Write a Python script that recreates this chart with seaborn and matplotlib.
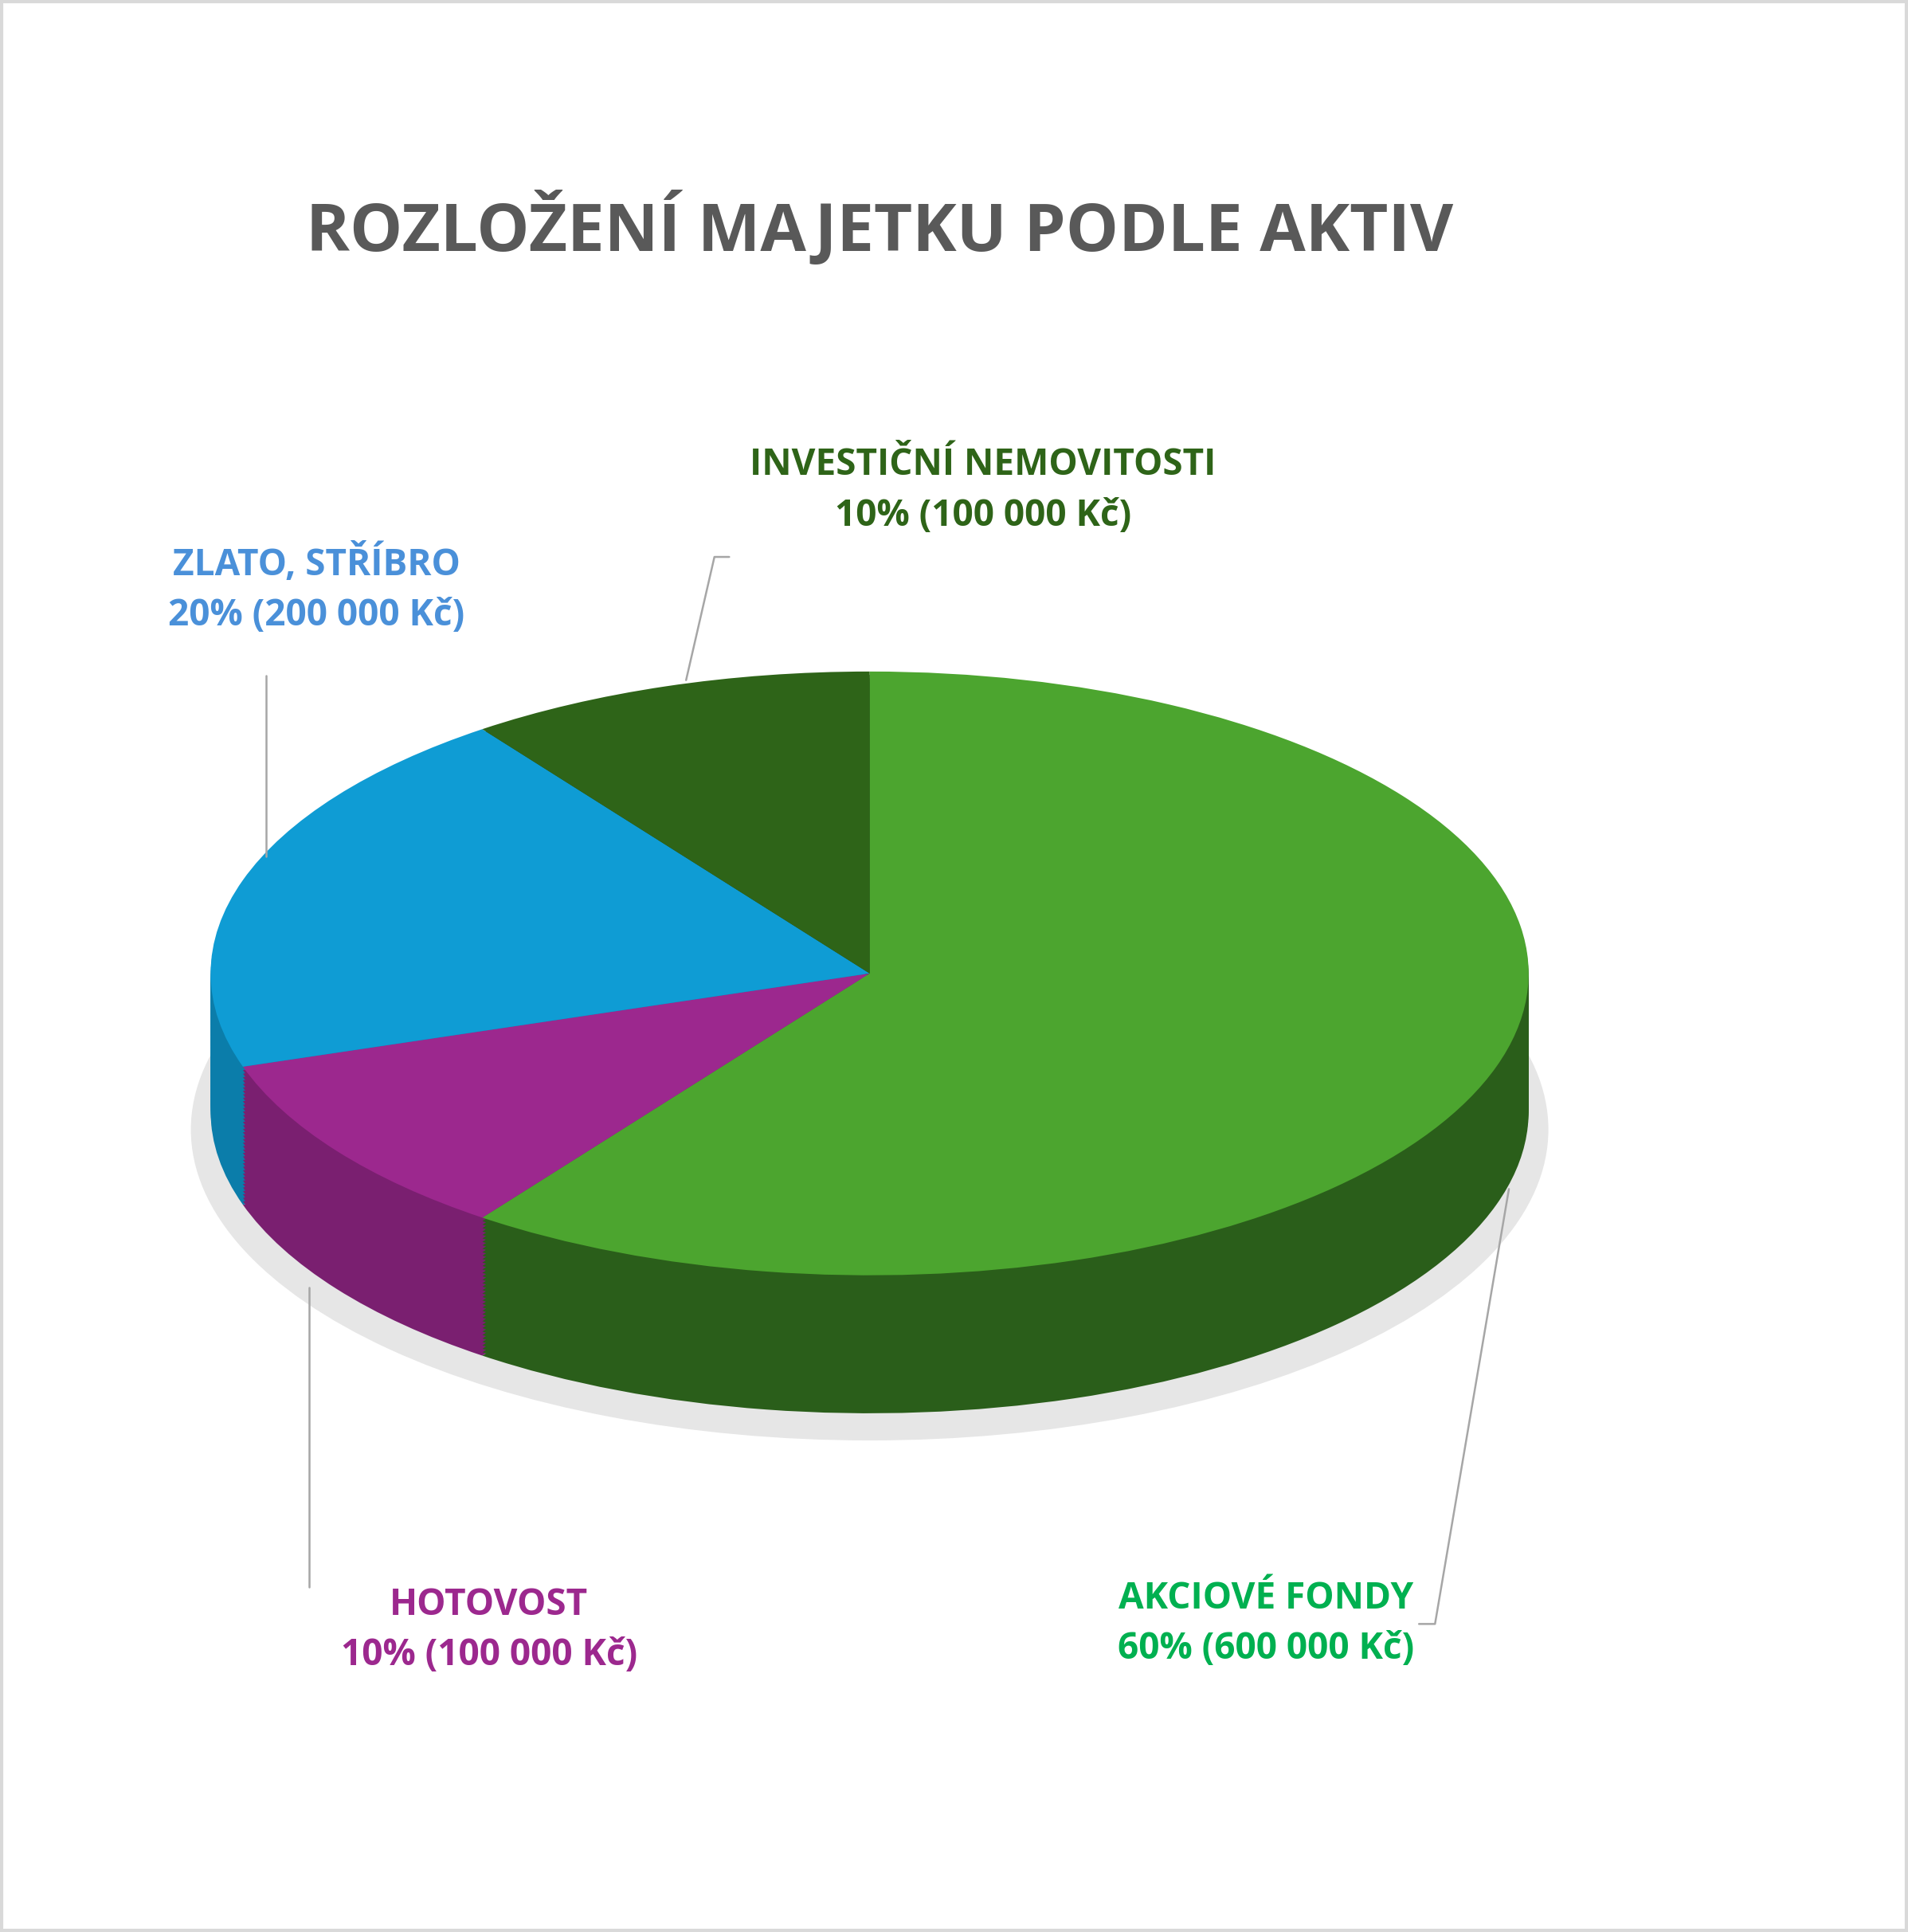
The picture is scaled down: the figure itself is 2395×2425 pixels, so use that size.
import matplotlib
matplotlib.use("Agg")
import matplotlib.pyplot as plt
import seaborn as sns
import numpy as np

sns.set_theme(style="white")
plt.rcParams['font.family'] = ['Open Sans', 'DejaVu Sans']

categories = ["AKCIOVÉ FONDY", "HOTOVOST", "ZLATO, STŘÍBRO", "INVESTIČNÍ NEMOVITOSTI"]
values = [60, 10, 20, 10]
amounts = ["600 000 Kč", "100 000 Kč", "200 000 Kč", "100 000 Kč"]
top_colors = ["#4CA52F", "#9C288E", "#0F9CD4", "#2E6418"]
side_colors = ["#2A5E1A", "#7A1F70", "#0B7DAA", "#22491A"]
label_colors = ["#00B050", "#9C288E", "#4A90D9", "#2E6418"]
title = "ROZLOŽENÍ MAJETKU PODLE AKTIV"

W, H = 1549, 1568
fig = plt.figure(figsize=(23.95, 24.25), dpi=100)
fig.patch.set_facecolor("white")

# pie axes (image px units)
cx, cy, rx, ry, depth = 706, 790, 535, 245, 112
left, right, top, bottom = 106, 1306, 450, 1250
ax = fig.add_axes([left / W, 1 - bottom / H, (right - left) / W, (bottom - top) / H])
ax.set_xlim(-(cx - left) / rx, (right - cx) / rx)
ax.set_ylim(-(bottom - cy) / ry, (cy - top) / ry)
ax.set_aspect('auto')
ax.axis('off')

# shadow
ax.pie([1], colors=["#E6E6E6"], radius=1.03, center=(0, -depth / ry - 0.06),
       wedgeprops=dict(linewidth=0))
# side layers
n = 40
for i in range(n, 0, -1):
    off = -depth / ry * i / n
    ax.pie(values, colors=side_colors, startangle=90, counterclock=False,
           center=(0, off), wedgeprops=dict(linewidth=0))
ax.pie(values, colors=top_colors, startangle=90, counterclock=False,
       center=(0, 0), wedgeprops=dict(linewidth=0))
ax.set_xlim(-(cx - left) / rx, (right - cx) / rx)
ax.set_ylim(-(bottom - cy) / ry, (cy - top) / ry)
ax.set_aspect('auto')

def ft(x, y, s, **kw):
    fig.text(x / W, 1 - y / H, s, **kw)

ft(714, 186, title, ha='center', va='center', fontsize=60, fontweight='bold', color="#595959")

label_pos = [(1028, 1318), (397, 1323), (257, 478), (798, 398)]
for (x, y), c, v, a, col in zip(label_pos, categories, values, amounts, label_colors):
    ft(x, y, f"{c}\n{v}% ({a})", ha='center', va='center', fontsize=33,
       fontweight='bold', color=col, linespacing=1.45)

# leader lines
lines = [
    [(1225, 965), (1165, 1318), (1152, 1318)],
    [(251, 1045), (251, 1288)],
    [(216, 548), (216, 695)],
    [(592, 452), (580, 452), (557, 552)],
]
for pts in lines:
    xs = [p[0] / W for p in pts]
    ys = [1 - p[1] / H for p in pts]
    fig.add_artist(plt.Line2D(xs, ys, color="#A6A6A6", lw=1.8))

fig.add_artist(plt.Rectangle((0.001, 0.001), 0.998, 0.998, fill=False,
                             edgecolor="#D9D9D9", lw=3, transform=fig.transFigure))
fig.savefig("out.png", dpi=100, facecolor="white")
